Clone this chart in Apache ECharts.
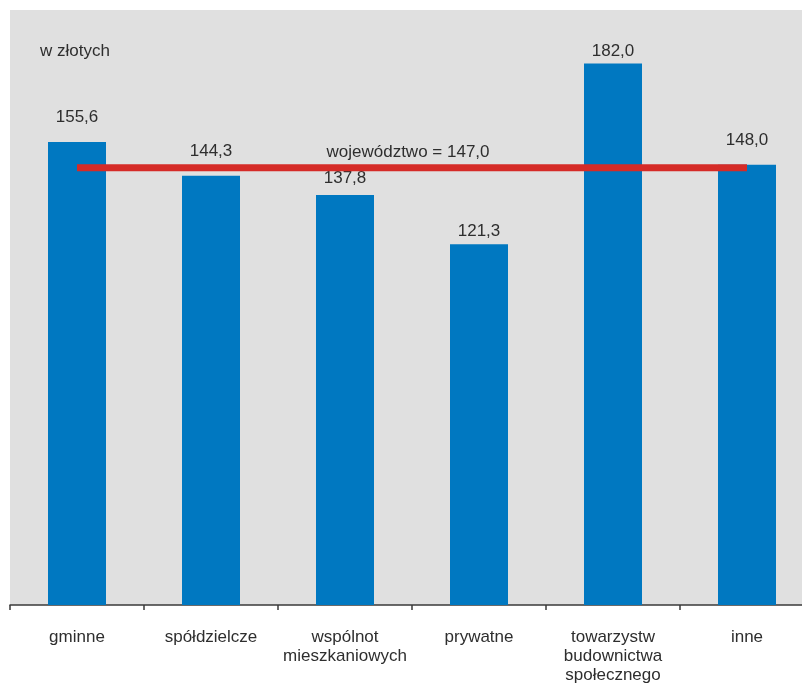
<!DOCTYPE html>
<html>
<head>
<meta charset="utf-8">
<style>
  html, body { margin: 0; padding: 0; background: #ffffff; }
  #chart { width: 802px; height: 683px; }
</style>
<script src="https://cdn.jsdelivr.net/npm/echarts@6/dist/echarts.min.js"></script>
</head>
<body>
<div id="chart"></div>
<script>
// Average amount per housing owner type, in złoty
const categories = [
  'gminne',
  'spółdzielcze',
  'wspólnot\nmieszkaniowych',
  'prywatne',
  'towarzystw\nbudownictwa\nspołecznego',
  'inne'
];
const values = [155.6, 144.3, 137.8, 121.3, 182.0, 148.0];
const voivodeshipValue = 147.0;

// gap between each bar top and its value label
const labelGap = [16, 16, 8, 4, 4, 16];

const fmt = v => v.toFixed(1).replace('.', ',');
const FONT = '"Liberation Sans", Arial, sans-serif';
const TEXT = '#2e2e2e';
const FS = 17;

const chart = echarts.init(document.getElementById('chart'), null, { renderer: 'canvas' });

chart.setOption({
  animation: false,
  backgroundColor: '#ffffff',
  textStyle: { fontFamily: FONT },
  grid: {
    left: 10, top: 10, width: 804, bottom: 78,
    outerBoundsMode: 'none', containLabel: false,
    show: true, backgroundColor: '#e0e0e0', borderWidth: 0
  },
  xAxis: {
    type: 'category',
    data: categories,
    axisLine: { show: true, lineStyle: { color: '#3a3a3a', width: 1.5 } },
    axisTick: { show: true, length: 5, lineStyle: { color: '#3a3a3a', width: 1.5 } },
    axisLabel: {
      color: TEXT, fontSize: FS, fontFamily: FONT,
      margin: 23, lineHeight: 19, interval: 0
    }
  },
  yAxis: {
    type: 'value', min: 0, max: 200, show: false,
    splitLine: { show: false }
  },
  series: [
    {
      type: 'bar',
      barWidth: 58,
      itemStyle: { color: '#0078c1' },
      data: values.map((v, i) => ({
        value: v,
        label: {
          show: true, position: 'top', distance: labelGap[i],
          formatter: fmt(v), color: TEXT, fontSize: FS, fontFamily: FONT
        }
      })),
      z: 2
    },
    {
      type: 'line',
      data: categories.map(() => voivodeshipValue),
      symbol: 'none',
      lineStyle: { color: '#d52b27', width: 7 },
      z: 3
    }
  ],
  graphic: [
    {
      type: 'text', left: 40, top: 43,
      style: { text: 'w złotych', fill: TEXT, fontSize: FS, fontFamily: FONT }
    },
    {
      type: 'text', x: 408, y: 152,
      style: {
        text: 'województwo = ' + fmt(voivodeshipValue),
        fill: TEXT, fontSize: FS, fontFamily: FONT,
        align: 'center', verticalAlign: 'middle'
      }
    }
  ]
});
</script>
</body>
</html>
